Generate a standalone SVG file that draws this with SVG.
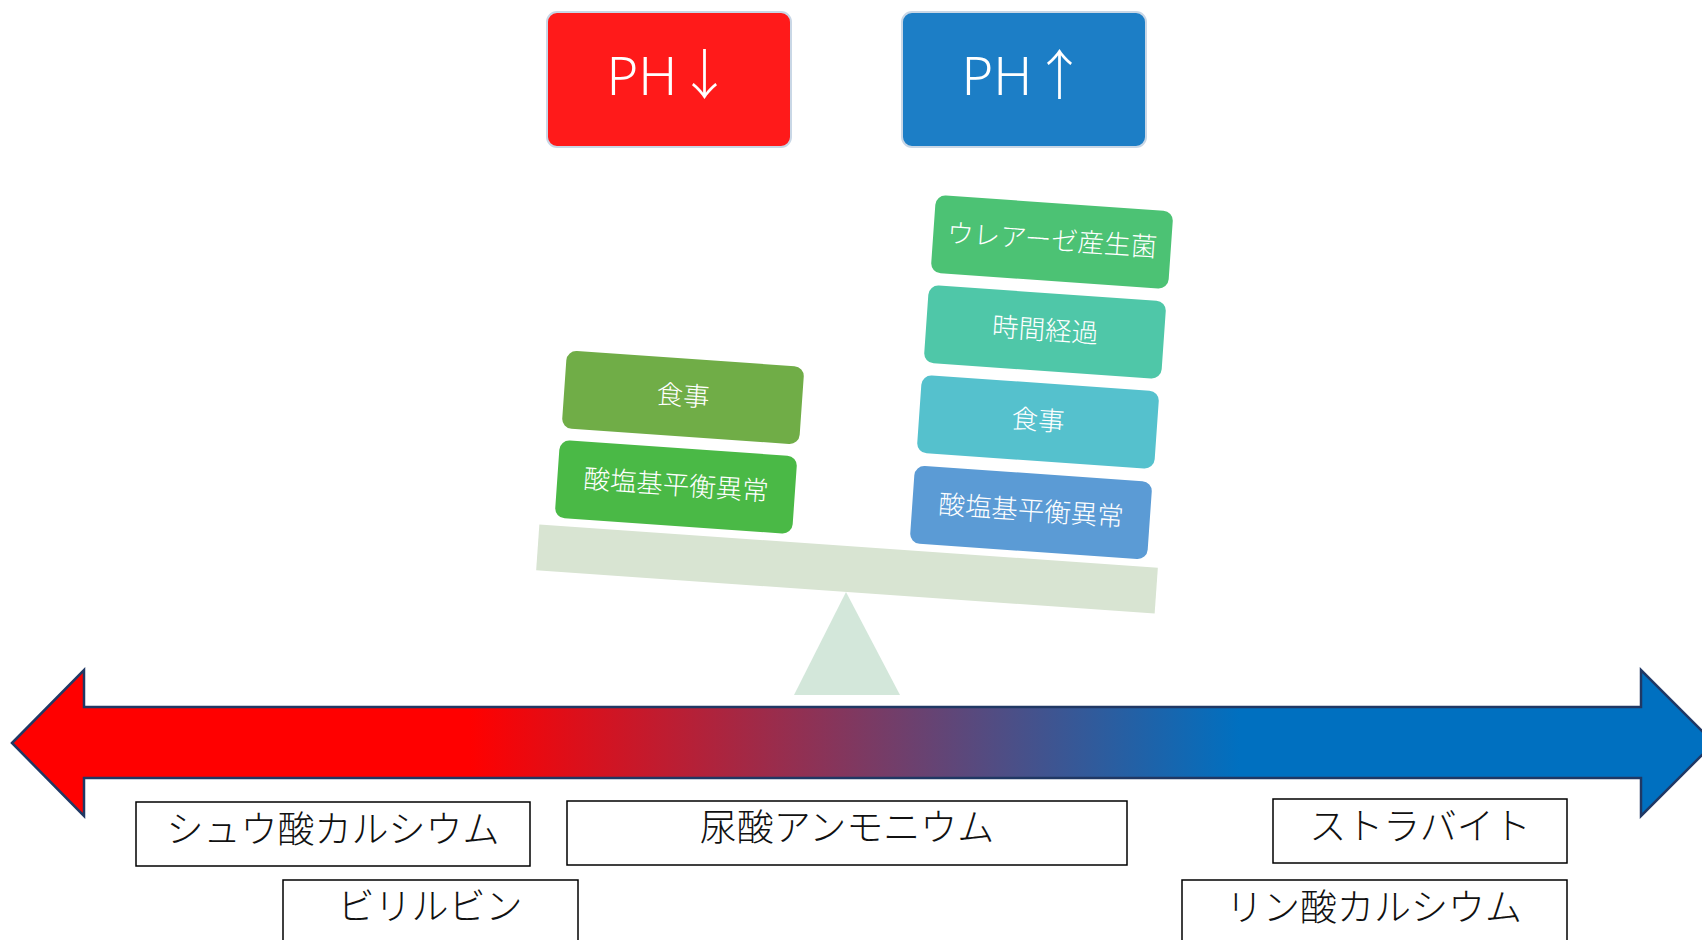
<svg xmlns="http://www.w3.org/2000/svg" width="1702" height="940" viewBox="0 0 1702 940">
<style>
.ph{font-family:"Noto Sans","Noto Sans CJK JP",sans-serif;font-size:54px;font-weight:300;fill:#fff;text-anchor:middle}
.blk text{font-family:"Noto Sans CJK JP",sans-serif;font-size:26.5px;font-weight:300;fill:#fff;text-anchor:middle;dominant-baseline:central}
.lbl rect{fill:#fff;stroke:#000;stroke-width:1.5}
.lbl text{font-family:"Noto Sans CJK JP",sans-serif;font-size:37px;font-weight:300;fill:#111;text-anchor:middle;dominant-baseline:central}
</style>
<defs>
<linearGradient id="grad" gradientUnits="userSpaceOnUse" x1="470" y1="0" x2="1240" y2="0">
<stop offset="0" stop-color="#ff0000"/>
<stop offset="1" stop-color="#0070c0"/>
</linearGradient>
</defs>
<rect width="1702" height="940" fill="#fff"/>

<g id="ph-down">
<rect x="547" y="12" width="244" height="135" rx="10" fill="#ff1a1a" stroke="#c9d7e6" stroke-width="2"/>
<text class="ph" x="669" y="95">PH<tspan font-family="Noto Sans CJK JP">↓</tspan></text>
</g>
<g id="ph-up">
<rect x="902" y="12" width="244" height="135" rx="10" fill="#1c7ec6" stroke="#c9d7e6" stroke-width="2"/>
<text class="ph" x="1024" y="95">PH<tspan font-family="Noto Sans CJK JP">↑</tspan></text>
</g>

<g id="seesaw">
<polygon points="846,592 794,695 900,695" fill="#d3e7da"/>
<rect x="-310" y="-23" width="620" height="46" fill="#d8e4d2" transform="translate(847,569) rotate(4)"/>
</g>

<g id="left-acid-base" class="blk" transform="translate(676,487) rotate(4)">
<rect x="-119" y="-39" width="238" height="78" rx="10" fill="#4ab946"/>
<text x="0" y="-4">酸塩基平衡異常</text>
</g>
<g id="left-diet" class="blk" transform="translate(683,397.5) rotate(4)">
<rect x="-119" y="-39" width="238" height="78" rx="10" fill="#70ad47"/>
<text x="0" y="-4">食事</text>
</g>
<g id="right-acid-base" class="blk" transform="translate(1031,512.5) rotate(4)">
<rect x="-119" y="-39" width="238" height="78" rx="10" fill="#5b9bd5"/>
<text x="0" y="-4">酸塩基平衡異常</text>
</g>
<g id="right-diet" class="blk" transform="translate(1038,422) rotate(4)">
<rect x="-119" y="-39" width="238" height="78" rx="10" fill="#55c1cd"/>
<text x="0" y="-4">食事</text>
</g>
<g id="right-time" class="blk" transform="translate(1045,332) rotate(4)">
<rect x="-119" y="-39" width="238" height="78" rx="10" fill="#4fc7a8"/>
<text x="0" y="-4">時間経過</text>
</g>
<g id="right-urease" class="blk" transform="translate(1052,242) rotate(4)">
<rect x="-119" y="-39" width="238" height="78" rx="10" fill="#4cc274"/>
<text x="0" y="-4">ウレアーゼ産生菌</text>
</g>

<g id="connectors">
<path d="M12,743 L84,670 L84,707 L1641,707 L1641,670 L1714,743 L1641,816 L1641,778 L84,778 L84,816 Z" fill="url(#grad)" stroke="#203864" stroke-width="2.5" stroke-linejoin="miter"/>
</g>

<g id="calcium-oxalate" class="lbl">
<rect x="136" y="802" width="394" height="64"/>
<text x="333" y="827">シュウ酸カルシウム</text>
</g>
<g id="bilirubin" class="lbl">
<rect x="283" y="880" width="295" height="80"/>
<text x="430" y="904">ビリルビン</text>
</g>
<g id="ammonium-urate" class="lbl">
<rect x="567" y="801" width="560" height="64"/>
<text x="847" y="825">尿酸アンモニウム</text>
</g>
<g id="struvite" class="lbl">
<rect x="1273" y="799" width="294" height="64"/>
<text x="1420" y="824">ストラバイト</text>
</g>
<g id="calcium-phosphate" class="lbl">
<rect x="1182" y="880" width="385" height="80"/>
<text x="1374" y="905">リン酸カルシウム</text>
</g>
</svg>
